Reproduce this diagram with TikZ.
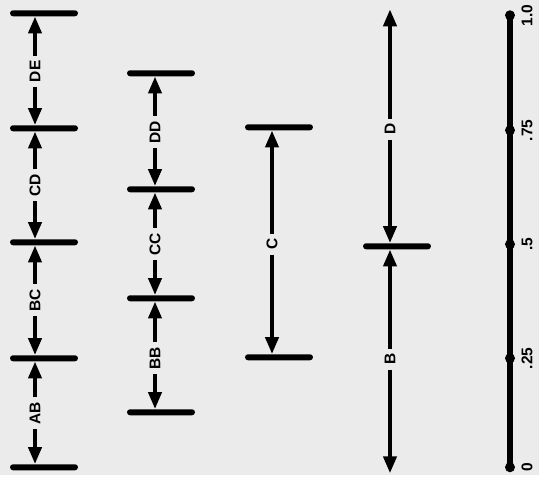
\documentclass[tikz,border=0pt]{standalone}
\usepackage{fontspec}
\setsansfont{Liberation Sans}
\usetikzlibrary{arrows.meta, positioning, calc}
\definecolor{paper}{gray}{0.92}

\begin{document}
\begin{tikzpicture}[x=1pt, y=1pt,
  bar/.style={fill=black, rounded corners=3pt, minimum width=68pt,
              minimum height=6pt, inner sep=0pt},
  arr/.style={-{Triangle[length=17pt, width=13pt]}, line width=4pt},
  lab/.style={rotate=90, inner sep=4.5pt,
              font=\sffamily\bfseries\fontsize{15.5}{15.5}\selectfont},
  dot/.style={circle, fill=black, minimum size=10pt, inner sep=0pt}
]
  \fill[paper] (0,0) rectangle (539,475);

  % First column: levels A to E
  \node[bar] (a1) at (44,8) {};
  \node[bar] (b1) at (44,117) {};
  \node[bar] (c1) at (44,233) {};
  \node[bar] (d1) at (44,347) {};
  \node[bar] (e1) at (44,462) {};
  \node[lab] (ab) at (35,62) {AB};
  \node[lab] (bc) at (35,175) {BC};
  \node[lab] (cd) at (35,290) {CD};
  \node[lab] (de) at (35,404) {DE};

  % Second column
  \node[bar] (b2) at (161,63) {};
  \node[bar] (c2) at (161,177) {};
  \node[bar] (d2) at (161,286) {};
  \node[bar] (e2) at (161,402) {};
  \node[lab] (bb) at (155,117) {BB};
  \node[lab] (cc) at (155,231) {CC};
  \node[lab] (dd) at (155,343) {DD};

  % Third column
  \node[bar] (c3) at (279,118) {};
  \node[bar] (d3) at (279,348) {};
  \node[lab] (cl) at (272,231) {C};

  % Fourth column, open ends
  \node[bar] (m4) at (397,229) {};
  \node[lab] (dl) at (390,346) {D};
  \node[lab] (bl) at (390,116) {B};
  \coordinate (top4) at (390,466);
  \coordinate (bot4) at (390,2);

  % Arrows
  \foreach \l/\lo/\hi in {ab/a1/b1, bc/b1/c1, cd/c1/d1, de/d1/e1,
                          bb/b2/c2, cc/c2/d2, dd/d2/e2, cl/c3/d3} {
    \draw[arr] (\l) -- (\l |- \lo.north);
    \draw[arr] (\l) -- (\l |- \hi.south);
  }
  \draw[arr] (dl) -- (top4);
  \draw[arr] (dl) -- (dl |- m4.north);
  \draw[arr] (bl) -- (bl |- m4.south);
  \draw[arr] (bl) -- (bot4);

  % Scale
  \foreach \v/\y [count=\i] in {0/8, .25/117, .5/231, .75/345, 1.0/460} {
    \node[dot] (s\i) at (510,\y) {};
    \node[lab] (t\i) at (527,\y) {\v};
  }
  \draw[line width=6pt] (s1.center) -- (s5.center);
\end{tikzpicture}
\end{document}
